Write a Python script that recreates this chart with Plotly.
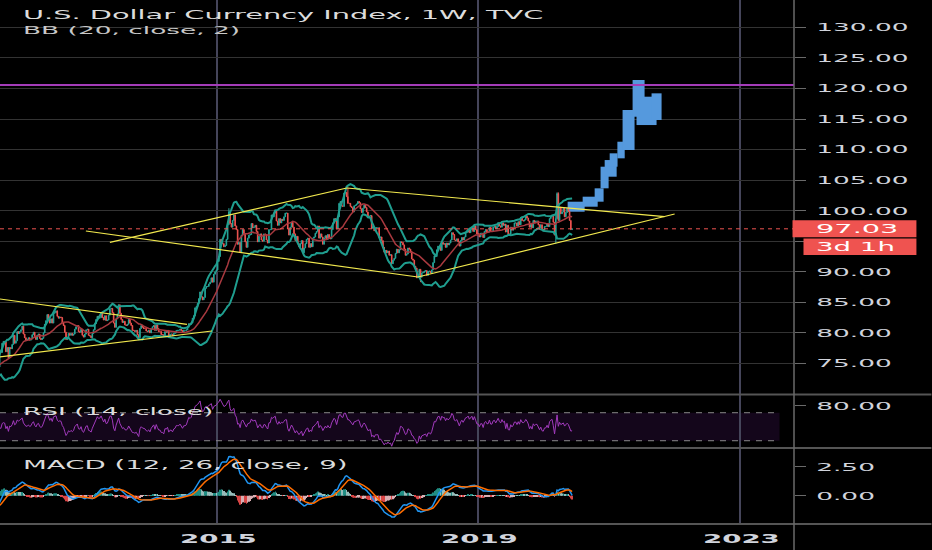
import numpy as np
import pandas as pd
import plotly.graph_objects as go

# ---------------- data: weekly DXY closes (each list starts on the first Monday of its year)
closes_2011 = [80.9, 79.0, 78.3, 77.7, 77.9, 78.2, 77.6, 76.9, 76.6, 76.8, 76.2, 75.8, 75.9,
               75.0, 74.8, 74.0, 73.1, 74.8, 75.9, 75.6, 75.7, 74.8, 73.9, 75.6, 75.3, 74.3,
               75.2, 74.9, 74.4, 73.9, 74.4, 74.3, 73.9, 74.1, 74.4, 77.0, 76.8, 78.3, 78.6,
               78.5, 76.9, 77.6, 75.9, 77.6, 77.4, 78.1, 79.6, 78.3, 78.7, 80.2, 79.9, 80.2]
closes_2012 = [80.5, 81.1, 79.8, 79.2, 78.8, 78.9, 79.2, 78.8, 79.0, 79.7, 80.1, 79.3, 78.9,
               79.6, 79.8, 79.1, 78.9, 79.1, 80.0, 81.4, 82.0, 83.0, 82.3, 81.6, 82.3, 81.6,
               83.2, 83.3, 83.6, 82.7, 82.4, 82.6, 82.5, 81.6, 81.2, 80.1, 78.9, 79.3, 79.9,
               79.6, 79.9, 79.6, 79.8, 80.6, 81.0, 81.2, 80.2, 80.1, 80.6, 79.6, 79.3, 79.8, 80.5]
closes_2013 = [80.6, 79.6, 79.5, 79.2, 79.9, 80.5, 81.5, 82.2, 82.7, 82.4, 82.5, 83.1,
               82.5, 82.1, 82.8, 82.0, 82.1, 82.9, 83.9, 84.0, 83.3, 81.6, 80.9, 82.3, 83.1,
               84.6, 83.2, 82.2, 81.7, 81.9, 81.3, 81.2, 81.4, 82.2, 81.6, 81.2, 80.4, 80.4, 80.2,
               80.4, 79.7, 79.2, 80.7, 81.2, 80.9, 80.7, 80.7, 80.3, 80.2, 80.4, 80.0, 80.6]
closes_2014 = [81.0, 81.2, 80.4, 81.3, 80.7, 80.2, 80.2, 79.7, 79.7, 79.4, 80.2, 80.1, 80.4,
               79.5, 79.8, 79.8, 79.5, 79.9, 80.0, 80.4, 80.4, 80.4, 80.6, 80.4, 80.1, 80.4,
               80.4, 80.5, 80.9, 81.5, 81.4, 81.6, 82.4, 82.8, 84.1, 84.3, 84.8, 85.6, 86.7,
               85.9, 85.4, 85.8, 87.3, 87.6, 87.6, 88.0, 88.3, 89.0, 88.3, 89.6, 90.0, 90.3]
closes_2015 = [91.7, 92.5, 95.3, 94.8, 94.6, 94.1, 94.3, 95.3, 97.7, 99.8, 97.9, 97.3, 98.4,
               99.3, 97.5, 96.9, 94.5, 94.8, 93.2, 96.0, 96.9, 96.1, 94.9, 94.0, 95.5, 96.0,
               96.1, 97.9, 97.2, 97.3, 97.6, 96.6, 94.9, 95.8, 96.2, 95.2, 95.0, 96.2, 96.1,
               95.2, 94.7, 96.9, 96.9, 99.3, 99.0, 99.6, 100.0, 98.3, 97.6, 98.7, 98.0, 98.6]
closes_2016 = [98.4, 99.0, 99.6, 99.6, 97.0, 96.0, 97.3, 98.1, 97.3, 96.2, 95.1, 95.8, 94.6,
               94.1, 94.6, 95.1, 93.1, 93.9, 94.6, 95.3, 95.5, 94.0, 94.6, 94.1, 95.5, 95.7,
               96.3, 96.6, 97.5, 95.5, 96.2, 95.7, 94.5, 95.5, 95.9, 95.3, 96.1, 95.5, 95.4,
               96.9, 98.0, 98.7, 98.3, 97.0, 99.0, 101.2, 101.5, 100.8, 100.7, 102.9, 103.0, 102.3]
closes_2017 = [101.2, 101.2, 100.7, 100.5, 99.8, 100.8, 100.9, 101.1, 101.5, 101.3, 100.3, 99.7, 100.4,
               100.9, 100.5, 99.8, 99.0, 99.1, 99.2, 97.1, 97.4, 96.7, 97.2, 97.2, 97.2, 95.6,
               95.7, 95.1, 94.0, 93.2, 93.5, 93.1, 93.4, 92.7, 92.8, 91.3, 91.9, 92.2, 93.0,
               93.7, 93.1, 93.6, 94.9, 94.8, 94.4, 93.7, 92.7, 92.9, 93.9, 93.7, 93.3, 92.1]
closes_2018 = [91.9, 90.9, 90.6, 89.0, 89.2, 90.4, 89.1, 89.8, 89.9, 90.1, 90.2, 89.4, 90.1,
               90.1, 89.8, 90.3, 91.5, 92.6, 92.5, 93.6, 94.2, 94.2, 93.5, 94.8, 94.5, 94.6,
               94.0, 94.7, 94.4, 94.7, 95.2, 96.4, 96.1, 95.2, 95.1, 95.4, 94.9, 94.2, 95.1,
               95.6, 95.2, 95.7, 96.4, 96.5, 96.9, 96.4, 96.9, 97.2, 96.6, 97.5, 96.9, 96.2, 96.2]
closes_2019 = [95.7, 96.3, 96.3, 95.6, 96.6, 96.9, 96.5, 96.5, 97.3, 96.6, 96.6, 97.3,
               97.4, 97.0, 97.4, 98.0, 97.5, 97.3, 98.0, 97.6, 97.8, 96.5, 97.6, 96.2, 96.1,
               97.3, 96.8, 97.2, 98.0, 98.0, 97.5, 98.2, 97.7, 98.9, 98.4, 98.3, 98.5, 99.1, 98.8,
               98.3, 97.3, 97.8, 97.2, 98.4, 98.0, 98.3, 98.3, 97.7, 97.2, 97.7, 96.9, 96.8]
closes_2020 = [97.4, 97.4, 97.9, 97.4, 98.7, 99.1, 99.3, 98.1, 96.0, 98.7, 102.8, 98.4, 100.6,
               99.5, 99.8, 100.4, 99.0, 99.7, 100.4, 99.9, 98.4, 96.9, 97.03]
year_first_monday = ["2011-01-03", "2012-01-02", "2013-01-07", "2014-01-06", "2015-01-05",
                     "2016-01-04", "2017-01-02", "2018-01-01", "2019-01-07", "2020-01-06"]

# notable weekly extremes (wicks)
extra_high = {"2015-03-09": 100.4, "2017-01-02": 103.8, "2020-03-09": 99.3,
              "2020-03-16": 103.0, "2020-03-23": 103.0}
extra_low = {"2018-02-12": 88.3, "2020-03-09": 94.6}

# drawn trend lines: (date0, price0, date1, price1)
trend_lines = [
    ("2011-06-01", 85.93, "2014-07-18", 81.40),
    ("2011-06-01", 75.70, "2014-12-04", 80.30),
    ("2012-12-30", 96.67, "2018-01-28", 89.14),
    ("2013-05-13", 94.82, "2016-12-27", 103.71),
    ("2016-12-27", 103.71, "2021-11-07", 99.01),
    ("2018-01-28", 89.14, "2022-01-02", 99.45),
]
resistance_level = 120.57

# projected "bars pattern" blocks: (start, end, low, high)
proj_start = ["2020-05-14", "2020-08-06", "2020-10-12", "2020-11-14", "2020-12-07", "2021-01-04",
              "2021-02-16", "2021-03-17", "2021-05-12", "2021-06-03", "2021-08-26"]
proj_end = ["2020-08-17", "2020-10-29", "2020-12-01", "2020-12-29", "2021-02-12", "2021-02-17",
            "2021-03-29", "2021-05-23", "2021-07-18", "2021-09-23", "2021-10-21"]
proj_low = [99.83, 100.65, 101.47, 103.66, 105.56, 107.20, 108.57, 109.93, 115.38, 114.02, 114.84]
proj_high = [101.47, 102.29, 103.66, 107.20, 108.29, 109.39, 111.29, 116.48, 121.39, 118.66, 119.21]

price_ticks = [75, 80, 85, 90, 95, 100, 105, 110, 115, 120, 125, 130]
year_ticks = ["2015-01-01", "2019-01-01", "2023-01-01"]
year_labels = ["2015", "2019", "2023"]

# ---------------- assemble series
yearly = [closes_2011, closes_2012, closes_2013, closes_2014, closes_2015,
          closes_2016, closes_2017, closes_2018, closes_2019, closes_2020]
dates, closes = [], []
for start, vals in zip(year_first_monday, yearly):
    dates += list(pd.date_range(start, periods=len(vals), freq="7D"))
    closes += vals
dates = pd.DatetimeIndex(dates)
close = pd.Series(closes, index=dates)
opens = close.shift(1).fillna(close.iloc[0])
highs = np.maximum(opens, close)
lows = np.minimum(opens, close)
for d, v in extra_high.items():
    highs[pd.Timestamp(d)] = max(highs[pd.Timestamp(d)], v)
for d, v in extra_low.items():
    lows[pd.Timestamp(d)] = min(lows[pd.Timestamp(d)], v)

# indicators
basis = close.rolling(20).mean()
dev = close.rolling(20).std(ddof=0)
upper, lower = basis + 2 * dev, basis - 2 * dev
delta = close.diff()
up = delta.clip(lower=0).ewm(alpha=1 / 14, adjust=False).mean()
dn = (-delta.clip(upper=0)).ewm(alpha=1 / 14, adjust=False).mean()
rsi = 100 - 100 / (1 + up / dn)
macd = close.ewm(span=12, adjust=False).mean() - close.ewm(span=26, adjust=False).mean()
signal = macd.ewm(span=9, adjust=False).mean()
hist = macd - signal
hist_colors = []
prev = 0.0
for h in hist.values:
    if h >= 0:
        hist_colors.append("#26A69A" if h > prev else "#B2DFDB")
    else:
        hist_colors.append("#FFCDD2" if h > prev else "#FF5252")
    prev = h

# ---------------- styling
BG = "#000000"
GRID = "#333333"
VGRID = "#45455a"
SEP = "#555555"
TXT = "#d1d4dc"
UP, DN = "#26a69a", "#ef5350"
FONT = "DejaVu Sans"
W, H = 932, 550
L, R, T, B = 0, 137.5, 0, 26
PH = H - T - B
PW = W - L - R


def py(px):  # paper y from pixel row
    return (PH - px) / PH


def pxx(px):  # paper x from pixel column
    return px / PW


main_dom = [py(394.6), 1]
rsi_dom = [py(448), py(394.6)]
macd_dom = [0, py(448)]

fig = go.Figure()
fig.add_trace(go.Candlestick(
    x=dates, open=opens, high=highs, low=lows, close=close,
    increasing=dict(line=dict(color=UP, width=1), fillcolor=UP),
    decreasing=dict(line=dict(color=DN, width=1), fillcolor=DN),
    whiskerwidth=0, xaxis="x", yaxis="y", hoverinfo="skip"))
fig.add_trace(go.Scatter(x=dates, y=upper, mode="lines", line=dict(color="#1f9e8f", width=2), yaxis="y"))
fig.add_trace(go.Scatter(x=dates, y=lower, mode="lines", line=dict(color="#1f9e8f", width=2), yaxis="y"))
fig.add_trace(go.Scatter(x=dates, y=basis, mode="lines", line=dict(color="#a8393f", width=1.5), yaxis="y"))

# projected blocks
ps = pd.to_datetime(proj_start)
pe = pd.to_datetime(proj_end)
mid = ps + (pe - ps) / 2
widths = [(b - a).total_seconds() * 1000 for a, b in zip(ps, pe)]
fig.add_trace(go.Bar(x=mid, base=proj_low, y=[h - l for h, l in zip(proj_high, proj_low)],
                     width=widths, marker=dict(color="#5599dd", line=dict(width=0)),
                     yaxis="y", hoverinfo="skip"))

# RSI
fig.add_trace(go.Scatter(x=dates, y=rsi, mode="lines", line=dict(color="#a23bbd", width=1), yaxis="y2"))
# MACD
fig.add_trace(go.Bar(x=dates, y=hist, width=2.5 * 86400000, marker=dict(color=hist_colors, line=dict(width=0)),
                     opacity=0.85, yaxis="y3"))
fig.add_trace(go.Scatter(x=dates, y=macd, mode="lines", line=dict(color="#2196f3", width=1.5), yaxis="y3"))
fig.add_trace(go.Scatter(x=dates, y=signal, mode="lines", line=dict(color="#ff6d00", width=1.5), yaxis="y3"))

shapes = []
# RSI band and levels
shapes.append(dict(type="rect", xref="paper", yref="y2", x0=0, x1=pxx(780), y0=30, y1=70,
                   fillcolor="rgba(126,40,170,0.16)", line=dict(width=0), layer="below"))
for lvl in (70, 30):
    shapes.append(dict(type="line", xref="paper", yref="y2", x0=0, x1=pxx(780), y0=lvl, y1=lvl,
                       line=dict(color="#8a8a8a", width=1, dash="6px,6px")))
# trend lines
for d0, p0, d1, p1 in trend_lines:
    shapes.append(dict(type="line", xref="x", yref="y", x0=d0, y0=p0, x1=d1, y1=p1,
                       line=dict(color="#f2e94e", width=1.2)))
# horizontal resistance
shapes.append(dict(type="line", xref="paper", yref="y", x0=0, x1=1, y0=resistance_level, y1=resistance_level,
                   line=dict(color="#a43cb8", width=2)))
# last price line
last = closes[-1]
shapes.append(dict(type="line", xref="paper", yref="y", x0=0, x1=1, y0=last, y1=last,
                   line=dict(color="#ef5350", width=1, dash="4px,4px")))
# pane separators and price scale border
for yp in (py(394.6), py(448), 0):
    shapes.append(dict(type="line", xref="paper", yref="paper", x0=0, x1=W / PW, y0=yp, y1=yp,
                       line=dict(color=SEP, width=2)))
shapes.append(dict(type="line", xref="paper", yref="paper", x0=1, x1=1, y0=-B / PH, y1=1,
                   line=dict(color="#6a6a6a", width=1.5)))
# price labels on the scale
shapes.append(dict(type="rect", xref="paper", yref="y", x0=pxx(793), x1=pxx(917),
                   y0=last - 1.39, y1=last + 1.39, fillcolor="#ef5350", line=dict(width=0)))
shapes.append(dict(type="rect", xref="paper", yref="y", x0=pxx(804), x1=pxx(917),
                   y0=last - 4.3, y1=last - 1.6, fillcolor="#ef5350", line=dict(width=0)))

ann = []
def label(text, xpx, ypx, size, color=TXT, yref="paper", yval=None, weight="normal"):
    ann.append(dict(text=text, xref="paper", x=pxx(xpx), yref=yref,
                    y=py(ypx) if yval is None else yval,
                    xanchor="left", yanchor="middle", align="left", showarrow=False,
                    font=dict(family=FONT, size=size, color=color, weight=weight)))

label("U.S. Dollar Currency Index, 1W, TVC", 21, 15, 12, "#dcdcdc")
label("BB (20, close, 2)", 21, 30, 11, "#c8c8c8")
label("RSI (14, close)", 21, 411, 11, "#dcdcdc")
label("MACD (12, 26, close, 9)", 21, 465, 11.5, "#dcdcdc")
label("%.2f" % last, 815, 0, 12, "#ffffff", yref="y", yval=last)
label("3d 1h", 815, 0, 11.5, "#ffffff", yref="y", yval=last - 2.95)
# time-scale labels (left-anchored so the horizontal stretch stays centred on the tick)
for tv, tl in zip(year_ticks, year_labels):
    ann.append(dict(text=tl, xref="x", x=tv, xshift=-39, yref="paper", y=py(538.5),
                    xanchor="left", yanchor="middle", align="left", showarrow=False,
                    font=dict(family=FONT, size=11.5, color=TXT, weight="bold")))

axis_font = dict(family=FONT, size=11, color=TXT)
fig.update_layout(
    width=W, height=H, margin=dict(l=L, r=R, t=T, b=B, pad=0),
    paper_bgcolor=BG, plot_bgcolor=BG, showlegend=False, hovermode=False,
    barmode="overlay", shapes=shapes, annotations=ann,
    font=dict(family=FONT, color=TXT),
    xaxis=dict(type="date", domain=[0, 1], anchor="y3", range=["2011-09-07", "2023-10-31"],
               tickvals=year_ticks, ticktext=["", "", ""], showgrid=True, gridcolor=VGRID, gridwidth=1.5,
               zeroline=False, showline=False, ticks="", rangeslider=dict(visible=False)),
    yaxis=dict(domain=main_dom, anchor="x", side="right", range=[69.89, 134.49],
               tickvals=price_ticks, ticktext=["" if v == 95 else "%.2f" % v for v in price_ticks],
               showgrid=True, gridcolor=GRID, zeroline=False, showline=False,
               ticks="outside", ticklen=11, tickcolor="#6a6a6a", tickfont=axis_font, ticklabelstandoff=8),
    yaxis2=dict(domain=rsi_dom, anchor="x", side="right", range=[19.6, 95.9],
                tickvals=[80], ticktext=["80.00"], showgrid=False, zeroline=False, showline=False,
                ticks="outside", ticklen=11, tickcolor="#6a6a6a", tickfont=axis_font, ticklabelstandoff=8),
    yaxis3=dict(domain=macd_dom, anchor="x", side="right", range=[-2.44, 4.11],
                tickvals=[0, 2.5], ticktext=["0.00", "2.50"], showgrid=False, zeroline=False, showline=False,
                ticks="outside", ticklen=11, tickcolor="#6a6a6a", tickfont=axis_font, ticklabelstandoff=8),
)

post_js = """
document.body.style.margin = '0';
document.body.style.overflow = 'hidden';
var gd = document.getElementById('{plot_id}');
gd.querySelectorAll('text').forEach(function (t) {
  var w = t.getComputedTextLength();
  if (w > 0) {
    t.setAttribute('textLength', (w * 2.4).toFixed(2));
    t.setAttribute('lengthAdjust', 'spacingAndGlyphs');
  }
});
"""
fig.write_html("out.html", post_script=post_js, config={"displayModeBar": False, "responsive": False})
